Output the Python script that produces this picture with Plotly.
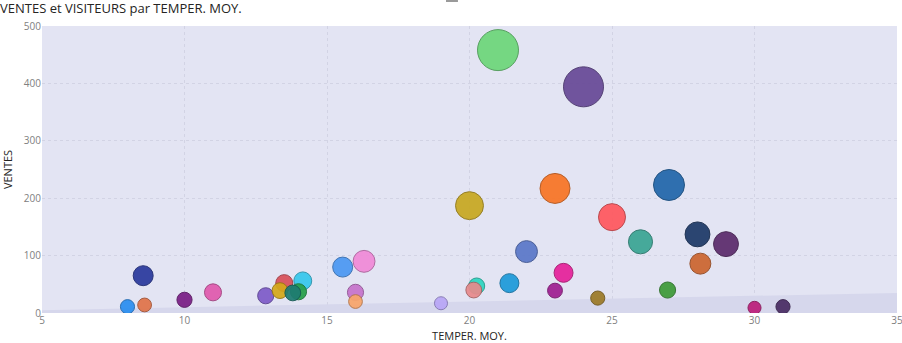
import plotly.graph_objects as go

# Average temperature per day, sales and visitor counts
temper = [8.0, 8.6, 8.55, 10.0, 11.0, 12.85, 13.5, 13.35, 14.15, 14.0, 13.8, 15.55,
          16.3, 16.0, 16.0, 19.0, 20.25, 20.15, 20.0, 21.4, 22.0, 23.0, 23.3, 23.0,
          24.5, 25.0, 26.0, 27.0, 26.95, 28.0, 28.1, 29.0, 30.0, 31.0, 21.0, 24.0]
ventes = [11, 14, 65, 23, 36, 30, 52, 39, 56, 37, 35, 80,
          90, 36, 20, 17, 47, 40, 187, 52, 107, 217, 70, 39,
          26, 167, 124, 223, 40, 137, 86, 120, 9, 11, 458, 394]
visiteurs = [200, 190, 400, 230, 290, 260, 290, 250, 320, 260, 250, 400,
             480, 260, 190, 170, 260, 250, 780, 360, 480, 900, 360, 220,
             200, 730, 580, 960, 260, 620, 440, 620, 170, 200, 1680, 1600]
couleurs = ["#2A8EF0", "#E0744A", "#2A3A9E", "#7A1F86", "#E05AAE", "#7E5CC8",
            "#D9505A", "#D4A81A", "#36C8EC", "#27A04A", "#1E7C72", "#4C98F2",
            "#F08AD8", "#C774CC", "#F8A56A", "#B8A6F6", "#2ED6C0", "#E88A8C",
            "#C8A822", "#1E9ADA", "#5B78C9", "#F87525", "#E6229A", "#A01F92",
            "#9C7A28", "#FF585E", "#3BA594", "#2267AA", "#3E9A38", "#1E3A68",
            "#CC6630", "#5C2C6C", "#BC1E7A", "#4A2C64", "#6DD77A", "#684A97"]

# Shaded lower band across the temperature range
bande_x = [5, 35]
bande_y = [5, 35]


def assombrir(hex_color, f=0.72):
    h = hex_color.lstrip("#")
    r, g, b = (int(h[i:i + 2], 16) for i in (0, 2, 4))
    return "rgb({},{},{})".format(int(r * f), int(g * f), int(b * f))


fig = go.Figure()

fig.add_trace(go.Scatter(
    x=bande_x, y=bande_y, mode="lines", fill="tozeroy",
    line=dict(width=0, color="rgba(0,0,0,0)"),
    fillcolor="#D6D7EC", hoverinfo="skip", showlegend=False,
))

fig.add_trace(go.Scatter(
    x=temper, y=ventes, mode="markers",
    customdata=visiteurs,
    marker=dict(
        size=visiteurs, sizemode="area", sizeref=2,
        color=couleurs, opacity=0.93,
        line=dict(width=1, color=[assombrir(c) for c in couleurs]),
    ),
    hovertemplate="TEMPER. MOY.: %{x}<br>VENTES: %{y}<br>VISITEURS: %{customdata}<extra></extra>",
    showlegend=False,
))

grid = dict(showgrid=True, gridcolor="#D2D3E4", griddash="dot", gridwidth=1,
            zeroline=False, showline=False, ticks="", ticklabeloverflow="allow",
            automargin=False,
            tickfont=dict(family="Open Sans, sans-serif", size=10, color="#808080"))

fig.update_xaxes(range=[5, 35], dtick=5, tick0=5,
                 title=dict(text="TEMPER. MOY.", standoff=6,
                            font=dict(family="Open Sans, sans-serif", size=11, color="#252423")),
                 **grid)
fig.update_yaxes(range=[0, 500], dtick=100,
                 title=dict(text="VENTES", standoff=8,
                            font=dict(family="Open Sans, sans-serif", size=11, color="#252423")),
                 **grid)

fig.update_layout(
    width=902, height=343,
    margin=dict(l=42, r=5, t=26, b=30),
    paper_bgcolor="white", plot_bgcolor="#E3E4F3",
    title=dict(text="VENTES et VISITEURS par TEMPER. MOY.", x=0, xref="container",
               xanchor="left", y=0.975, yanchor="middle", pad=dict(l=0, t=0),
               font=dict(family="Open Sans, sans-serif", size=13, color="#252423")),
    shapes=[dict(type="rect", xref="paper", yref="paper",
                 x0=0.4725, x1=0.4865, y0=1.0836, y1=1.095,
                 fillcolor="#9A9A9A", line=dict(width=0))],
)

fig.write_html("out.html")
